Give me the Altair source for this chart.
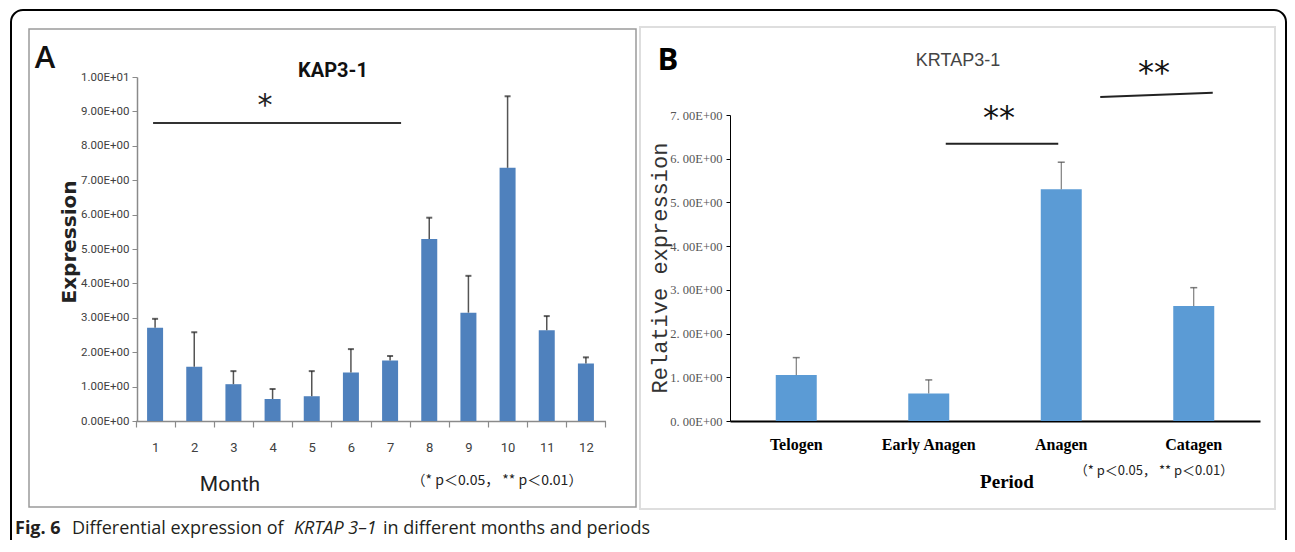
import altair as alt
import pandas as pd

# ---------------- data ----------------
months = list(range(1, 13))
kap_mean = [2.71, 1.58, 1.07, 0.64, 0.72, 1.41, 1.76, 5.29, 3.15, 7.36, 2.64, 1.67]
kap_err = [0.26, 1.00, 0.38, 0.29, 0.73, 0.68, 0.13, 0.62, 1.07, 2.08, 0.41, 0.18]

periods = ["Telogen", "Early Anagen", "Anagen", "Catagen"]
krt_mean = [1.05, 0.63, 5.30, 2.63]
krt_err = [0.40, 0.31, 0.62, 0.42]

ticks_a = list(range(0, 11))
ticks_b = list(range(0, 8))

# significance brackets
sig_a = [{"m1": 1, "m2": 7, "y": 8.66}]
sig_b1 = [{"p1": "Early Anagen", "p2": "Anagen", "y": 6.34, "y2": 6.34}]
sig_b2 = [{"p1": "Anagen", "p2": "Catagen", "y": 7.41, "y2": 7.51}]

dfA = pd.DataFrame({"month": months, "mean": kap_mean,
                    "top": [m + e for m, e in zip(kap_mean, kap_err)]})
dfB = pd.DataFrame({"period": periods, "mean": krt_mean,
                    "top": [m + e for m, e in zip(krt_mean, krt_err)]})

# ---------------- layout helpers ----------------
W, H = 1279, 532


def px(x):
    return x - 8


def py(y):
    return y - 8


NARROW = "Roboto, Liberation Sans, sans-serif"
SERIF = "Liberation Serif, DejaVu Serif, serif"
ONE = alt.Data(values=[{}])


def label(text, x, y, size, font, weight="normal", angle=0, color="black",
          align="center", baseline="alphabetic", style="normal"):
    return alt.Chart(ONE).mark_text(
        text=text, font=font, fontSize=size, fontWeight=weight, angle=angle,
        color=color, align=align, baseline=baseline, fontStyle=style
    ).encode(x=alt.value(px(x)), y=alt.value(py(y)))


def frame(x1, y1, x2, y2, color, width, radius=0):
    return alt.Chart(ONE).mark_rect(
        filled=False, stroke=color, strokeWidth=width, cornerRadius=radius
    ).encode(x=alt.value(px(x1)), x2=alt.value(px(x2)),
             y=alt.value(py(y1)), y2=alt.value(py(y2)))


# ---------------- panel A ----------------
scale_xA = alt.Scale(domain=months, range=[px(135.5), px(605.5)],
                     paddingInner=0, paddingOuter=0)
scale_yA = alt.Scale(domain=[0, 10], range=[py(421), py(77)], nice=False, zero=True)

axis_xA = alt.Axis(orient="bottom", offset=-(H - py(421)), title=None, labelAngle=0,
                   tickBand="extent", tickSize=6, tickColor="#8a8a8a",
                   domainColor="#8a8a8a", domainWidth=1.5, tickWidth=1.2,
                   labelFont=NARROW, labelFontSize=13, labelColor="#404040",
                   labelPadding=14, grid=False)
axis_yA = alt.Axis(orient="left", offset=-px(137), title=None, values=ticks_a,
                   labelExpr="datum.value >= 10 ? '1.00E+01' : format(datum.value, '.2f') + 'E+00'",
                   tickSize=5, tickColor="#8a8a8a", domainColor="#8a8a8a",
                   domainWidth=1.5, labelFont=NARROW, labelFontSize=11.5,
                   labelColor="#404040", labelPadding=3, grid=False)

xA = alt.X("month:O", scale=scale_xA, axis=axis_xA)
baseA = alt.Chart(dfA)
barsA = baseA.mark_bar(width=16, color="#4F81BD").encode(
    x=xA, y=alt.Y("mean:Q", scale=scale_yA, axis=axis_yA))
errA = baseA.mark_rule(color="#555555", strokeWidth=1.5).encode(
    x=xA, y=alt.Y("mean:Q", scale=scale_yA, axis=axis_yA), y2="top:Q")
capA = baseA.mark_tick(color="#222222", thickness=2, size=6).encode(
    x=xA, y=alt.Y("top:Q", scale=scale_yA, axis=axis_yA))
sigA = alt.Chart(alt.Data(values=sig_a)).mark_rule(
    color="#333333", strokeWidth=2, xOffset=-2, x2Offset=11).encode(
    x=alt.X("m1:O", scale=scale_xA, axis=axis_xA), x2="m2:O",
    y=alt.Y("y:Q", scale=scale_yA, axis=axis_yA))
panelA = alt.layer(barsA, errA, capA, sigA)

# ---------------- panel B ----------------
scale_xB = alt.Scale(domain=periods, range=[px(730), px(1260)],
                     paddingInner=0, paddingOuter=0)
scale_yB = alt.Scale(domain=[0, 7], range=[py(421), py(115)], nice=False, zero=True)

axis_xB = alt.Axis(orient="bottom", offset=-(H - py(421)), title=None, labelAngle=0,
                   ticks=False, domainColor="black", domainWidth=2,
                   labelFont=SERIF, labelFontSize=16, labelFontWeight="bold",
                   labelColor="black", labelPadding=15, grid=False)
axis_yB = alt.Axis(orient="left", offset=-px(730), title=None, values=ticks_b,
                   labelExpr="format(datum.value, '.0f') + '. 00E+00'",
                   tickSize=4, tickColor="black", domainColor="black",
                   labelFont=SERIF, labelFontSize=12.5, labelColor="#555555",
                   labelPadding=4, grid=False)

xB = alt.X("period:N", scale=scale_xB, axis=axis_xB, sort=periods)
baseB = alt.Chart(dfB)
barsB = baseB.mark_bar(width=41, color="#5B9BD5").encode(
    x=xB, y=alt.Y("mean:Q", scale=scale_yB, axis=axis_yB))
errB = baseB.mark_rule(color="#666666", strokeWidth=1).encode(
    x=xB, y=alt.Y("mean:Q", scale=scale_yB, axis=axis_yB), y2="top:Q")
capB = baseB.mark_tick(color="#444444", thickness=1.5, size=7).encode(
    x=xB, y=alt.Y("top:Q", scale=scale_yB, axis=axis_yB))
sigB1 = alt.Chart(alt.Data(values=sig_b1)).mark_rule(
    color="#222222", strokeWidth=2, xOffset=17, x2Offset=-3).encode(
    x=alt.X("p1:N", scale=scale_xB, axis=axis_xB, sort=periods), x2="p2:N",
    y=alt.Y("y:Q", scale=scale_yB, axis=axis_yB), y2="y2:Q")
sigB2 = alt.Chart(alt.Data(values=sig_b2)).mark_rule(
    color="#222222", strokeWidth=2, xOffset=39, x2Offset=19).encode(
    x=alt.X("p1:N", scale=scale_xB, axis=axis_xB, sort=periods), x2="p2:N",
    y=alt.Y("y:Q", scale=scale_yB, axis=axis_yB), y2="y2:Q")
panelB = alt.layer(barsB, errB, capB, sigB1, sigB2)

# ---------------- frames and texts ----------------
frames = alt.layer(
    frame(11, 10, 1286, 620, "black", 2, 12),
    frame(29, 29, 636, 507, "#9a9a9a", 1.5),
    frame(640, 27, 1275, 509, "#dedede", 2),
)

CJK = "Noto Sans CJK SC, Noto Sans, sans-serif"
SANS = "Open Sans, sans-serif"
texts = alt.layer(
    label("A", 45, 68, 31, SANS, weight=600, color="#111111"),
    label("KAP3-1", 333, 77, 20, NARROW, weight="bold", color="#111111"),
    label("*", 265, 115, 30, "DejaVu Sans, sans-serif", color="#222222"),
    label("Expression", 76, 242, 20, "DejaVu Sans, sans-serif", weight="bold",
          angle=270, color="#222222"),
    label("Month", 230, 491, 21, NARROW, color="#222222"),
    label("（* p＜0.05， ** p＜0.01）", 497, 485, 14, CJK, color="#222222"),
    label("B", 668, 70, 31, SANS, weight="bold"),
    label("KRTAP3-1", 958, 66, 18, "Liberation Sans, Arial, sans-serif", color="#444444"),
    label("**", 999, 128, 32, "DejaVu Sans, sans-serif", color="#111111"),
    label("**", 1154, 83, 32, "DejaVu Sans, sans-serif", color="#111111"),
    label("Relative expression", 667, 268, 22, "Liberation Mono, DejaVu Sans Mono, monospace",
          angle=270, color="#333333"),
    label("Period", 1007, 488, 19, SERIF, weight="bold"),
    label("（* p＜0.05， ** p＜0.01）", 1154, 475, 13, CJK, color="#222222"),
    label("Fig. 6", 15, 534, 18, SANS, weight="bold", align="left", color="#231f20"),
    label("Differential expression of", 72, 534, 18, SANS, align="left", color="#231f20"),
    label("KRTAP 3–1", 294, 534, 18, SANS, align="left", style="italic", color="#231f20"),
    label("in different months and periods", 383, 534, 18, SANS, align="left",
          color="#231f20"),
)

chart = alt.layer(frames, panelA, panelB, texts).resolve_scale(
    x="independent", y="independent"
).properties(
    width=W, height=H, padding=0, background="white",
    autosize=alt.AutoSizeParams(type="none"),
).configure_view(strokeWidth=0)

chart.save("out.html", embed_options={"renderer": "svg", "actions": False})
